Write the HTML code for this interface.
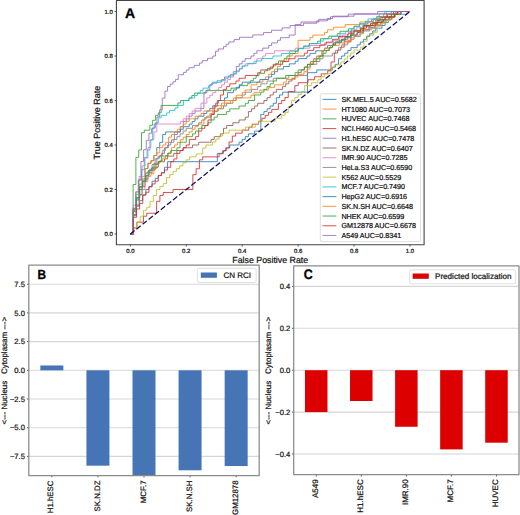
<!DOCTYPE html><html><head><meta charset="utf-8"><style>html,body{margin:0;padding:0;background:#fff;width:520px;height:515px;overflow:hidden}text{font-family:"Liberation Sans",sans-serif;text-rendering:geometricPrecision;stroke:#111;stroke-width:0.22px}text[font-weight]{stroke:#000;stroke-width:0.3px}</style></head><body><svg width="520" height="515" viewBox="0 0 520 515" style="display:block"><rect x="0" y="0" width="520" height="515" fill="#fff"/><g font-family='"Liberation Sans", sans-serif' stroke-linejoin="round"><clipPath id="ca"><rect x="116.4" y="0.5" width="307.70000000000005" height="244.2"/></clipPath><g clip-path="url(#ca)" fill="none" stroke-width="1.0" stroke-opacity="0.82" stroke-linejoin="miter"><path d="M130.30,234.00 133.41,234.00 133.41,214.53 136.52,214.53 136.52,206.19 139.62,206.19 139.62,200.62 142.73,200.62 142.73,195.06 145.84,195.06 145.84,189.50 148.95,189.50 148.95,186.72 152.05,186.72 152.05,181.16 155.16,181.16 155.16,178.38 158.27,178.38 158.27,175.59 161.38,175.59 161.38,172.81 164.49,172.81 164.49,167.25 167.59,167.25 167.59,161.69 217.32,161.69 217.32,153.34 223.53,153.34 223.53,150.56 226.64,150.56 226.64,147.78 229.75,147.78 229.75,145.00 239.07,145.00 239.07,142.22 242.18,142.22 242.18,139.44 245.29,139.44 245.29,136.66 248.40,136.66 248.40,133.88 254.61,133.88 254.61,131.09 260.83,131.09 260.83,114.41 263.93,114.41 263.93,111.62 267.04,111.62 267.04,108.84 270.15,108.84 270.15,106.06 273.26,106.06 273.26,103.28 276.37,103.28 276.37,97.72 279.47,97.72 279.47,94.94 282.58,94.94 282.58,92.16 307.44,92.16 307.44,72.69 316.77,72.69 316.77,69.91 332.31,69.91 332.31,67.12 335.41,67.12 335.41,64.34 338.52,64.34 338.52,58.78 341.63,58.78 341.63,56.00 344.74,56.00 344.74,53.22 347.84,53.22 347.84,50.44 350.95,50.44 350.95,47.66 357.17,47.66 357.17,44.88 360.28,44.88 360.28,42.09 363.38,42.09 363.38,39.31 366.49,39.31 366.49,36.53 369.60,36.53 369.60,33.75 372.71,33.75 372.71,30.97 375.81,30.97 375.81,28.19 382.03,28.19 382.03,25.41 385.14,25.41 385.14,22.62 388.25,22.62 388.25,19.84 391.35,19.84 391.35,17.06 394.46,17.06 394.46,14.28 400.68,14.28 400.68,11.50 410.00,11.50" stroke="#1f77b4"/><path d="M130.30,234.00 133.24,234.00 133.24,215.68 136.19,215.68 136.19,205.21 139.13,205.21 139.13,194.74 142.08,194.74 142.08,189.50 145.02,189.50 145.02,181.65 147.97,181.65 147.97,176.41 150.91,176.41 150.91,173.79 153.85,173.79 153.85,168.56 156.80,168.56 156.80,163.32 159.74,163.32 159.74,160.71 162.69,160.71 162.69,158.09 165.63,158.09 165.63,155.47 168.57,155.47 168.57,152.85 171.52,152.85 171.52,147.62 174.46,147.62 174.46,145.00 177.41,145.00 177.41,142.38 180.35,142.38 180.35,139.76 183.30,139.76 183.30,137.15 186.24,137.15 186.24,134.53 189.18,134.53 189.18,131.91 192.13,131.91 192.13,129.29 195.07,129.29 195.07,126.68 198.02,126.68 198.02,124.06 203.91,124.06 203.91,118.82 206.85,118.82 206.85,116.21 209.79,116.21 209.79,113.59 212.74,113.59 212.74,110.97 218.63,110.97 218.63,108.35 221.57,108.35 221.57,105.74 224.51,105.74 224.51,103.12 230.40,103.12 230.40,100.50 233.35,100.50 233.35,97.88 236.29,97.88 236.29,95.26 242.18,95.26 242.18,92.65 245.12,92.65 245.12,90.03 251.01,90.03 251.01,84.79 256.90,84.79 256.90,82.18 262.79,82.18 262.79,79.56 265.73,79.56 265.73,76.94 268.68,76.94 268.68,74.32 271.62,74.32 271.62,71.71 274.57,71.71 274.57,69.09 277.51,69.09 277.51,66.47 280.45,66.47 280.45,61.24 286.34,61.24 286.34,58.62 289.29,58.62 289.29,56.00 292.23,56.00 292.23,53.38 298.12,53.38 298.12,40.29 309.90,40.29 309.90,37.68 312.84,37.68 312.84,35.06 324.62,35.06 324.62,32.44 327.56,32.44 327.56,29.82 333.45,29.82 333.45,27.21 345.23,27.21 345.23,24.59 359.95,24.59 359.95,21.97 371.73,21.97 371.73,19.35 377.61,19.35 377.61,16.74 383.50,16.74 383.50,14.12 386.45,14.12 386.45,11.50 410.00,11.50" stroke="#ff7f0e"/><path d="M130.30,234.00 133.10,234.00 133.10,184.56 135.89,184.56 135.89,157.36 138.69,157.36 138.69,149.94 141.49,149.94 141.49,132.64 144.29,132.64 144.29,130.17 149.88,130.17 149.88,125.22 152.68,125.22 152.68,120.28 155.47,120.28 155.47,115.33 158.27,115.33 158.27,112.86 161.07,112.86 161.07,105.44 177.85,105.44 177.85,102.97 180.65,102.97 180.65,100.50 189.04,100.50 189.04,98.03 191.83,98.03 191.83,95.56 194.63,95.56 194.63,93.08 205.82,93.08 205.82,90.61 230.99,90.61 230.99,88.14 239.38,88.14 239.38,85.67 247.77,85.67 247.77,83.19 250.57,83.19 250.57,80.72 253.37,80.72 253.37,78.25 256.17,78.25 256.17,75.78 258.96,75.78 258.96,73.31 264.56,73.31 264.56,70.83 267.35,70.83 267.35,68.36 272.95,68.36 272.95,65.89 275.74,65.89 275.74,63.42 278.54,63.42 278.54,60.94 284.13,60.94 284.13,58.47 286.93,58.47 286.93,56.00 289.73,56.00 289.73,53.53 295.32,53.53 295.32,51.06 298.12,51.06 298.12,48.58 303.71,48.58 303.71,46.11 309.31,46.11 309.31,43.64 317.70,43.64 317.70,41.17 320.50,41.17 320.50,38.69 328.89,38.69 328.89,36.22 337.28,36.22 337.28,33.75 340.07,33.75 340.07,31.28 348.47,31.28 348.47,28.81 354.06,28.81 354.06,26.33 359.65,26.33 359.65,23.86 368.04,23.86 368.04,21.39 373.64,21.39 373.64,18.92 379.23,18.92 379.23,16.44 387.62,16.44 387.62,13.97 396.01,13.97 396.01,11.50 410.00,11.50" stroke="#2ca02c"/><path d="M130.30,234.00 133.59,234.00 133.59,228.07 136.88,228.07 136.88,222.13 143.46,222.13 143.46,216.20 146.75,216.20 146.75,213.23 156.62,213.23 156.62,201.37 159.92,201.37 159.92,195.43 163.21,195.43 163.21,192.47 173.08,192.47 173.08,189.50 192.82,189.50 192.82,174.67 196.11,174.67 196.11,168.73 199.40,168.73 199.40,159.83 202.69,159.83 202.69,156.87 219.15,156.87 219.15,153.90 222.44,153.90 222.44,150.93 225.73,150.93 225.73,147.97 229.02,147.97 229.02,142.03 232.31,142.03 232.31,136.10 235.60,136.10 235.60,133.13 242.18,133.13 242.18,130.17 248.76,130.17 248.76,127.20 252.05,127.20 252.05,124.23 258.63,124.23 258.63,121.27 261.92,121.27 261.92,118.30 265.21,118.30 265.21,115.33 268.50,115.33 268.50,112.37 271.80,112.37 271.80,109.40 278.38,109.40 278.38,103.47 281.67,103.47 281.67,100.50 284.96,100.50 284.96,97.53 288.25,97.53 288.25,91.60 294.83,91.60 294.83,85.67 298.12,85.67 298.12,82.70 307.99,82.70 307.99,79.73 314.57,79.73 314.57,76.77 321.15,76.77 321.15,73.80 327.74,73.80 327.74,70.83 331.03,70.83 331.03,61.93 334.32,61.93 334.32,53.03 337.61,53.03 337.61,50.07 340.90,50.07 340.90,47.10 344.19,47.10 344.19,41.17 350.77,41.17 350.77,35.23 357.35,35.23 357.35,32.27 360.64,32.27 360.64,29.30 363.93,29.30 363.93,26.33 370.51,26.33 370.51,23.37 377.09,23.37 377.09,20.40 380.38,20.40 380.38,17.43 386.97,17.43 386.97,14.47 393.55,14.47 393.55,11.50 410.00,11.50" stroke="#d62728"/><path d="M130.30,234.00 133.24,234.00 133.24,215.68 136.19,215.68 136.19,205.21 139.13,205.21 139.13,194.74 142.08,194.74 142.08,186.88 145.02,186.88 145.02,179.03 147.97,179.03 147.97,171.18 150.91,171.18 150.91,168.56 153.85,168.56 153.85,163.32 156.80,163.32 156.80,158.09 159.74,158.09 159.74,155.47 162.69,155.47 162.69,150.24 165.63,150.24 165.63,147.62 168.57,147.62 168.57,142.38 171.52,142.38 171.52,139.76 174.46,139.76 174.46,134.53 177.41,134.53 177.41,131.91 180.35,131.91 180.35,126.68 183.30,126.68 183.30,121.44 186.24,121.44 186.24,118.82 189.18,118.82 189.18,116.21 192.13,116.21 192.13,113.59 195.07,113.59 195.07,110.97 200.96,110.97 200.96,108.35 203.91,108.35 203.91,92.65 206.85,92.65 206.85,90.03 209.79,90.03 209.79,84.79 212.74,84.79 212.74,82.18 221.57,82.18 221.57,79.56 224.51,79.56 224.51,76.94 230.40,76.94 230.40,74.32 233.35,74.32 233.35,71.71 236.29,71.71 236.29,66.47 239.24,66.47 239.24,63.85 242.18,63.85 242.18,61.24 245.12,61.24 245.12,58.62 251.01,58.62 251.01,56.00 253.96,56.00 253.96,53.38 256.90,53.38 256.90,50.76 262.79,50.76 262.79,48.15 268.68,48.15 268.68,45.53 271.62,45.53 271.62,42.91 277.51,42.91 277.51,40.29 280.45,40.29 280.45,37.68 289.29,37.68 289.29,35.06 295.18,35.06 295.18,24.59 301.06,24.59 301.06,21.97 318.73,21.97 318.73,19.35 330.51,19.35 330.51,16.74 348.17,16.74 348.17,14.12 377.61,14.12 377.61,11.50 410.00,11.50" stroke="#9467bd"/><path d="M130.30,234.00 133.41,234.00 133.41,211.75 136.52,211.75 136.52,197.84 139.62,197.84 139.62,186.72 142.73,186.72 142.73,181.16 145.84,181.16 145.84,175.59 148.95,175.59 148.95,172.81 152.05,172.81 152.05,170.03 155.16,170.03 155.16,167.25 158.27,167.25 158.27,161.69 164.49,161.69 164.49,158.91 167.59,158.91 167.59,156.12 173.81,156.12 173.81,153.34 176.92,153.34 176.92,150.56 183.13,150.56 183.13,147.78 192.46,147.78 192.46,145.00 198.67,145.00 198.67,142.22 211.10,142.22 211.10,139.44 214.21,139.44 214.21,136.66 220.43,136.66 220.43,133.88 223.53,133.88 223.53,128.31 226.64,128.31 226.64,125.53 232.86,125.53 232.86,122.75 239.07,122.75 239.07,119.97 245.29,119.97 245.29,117.19 248.40,117.19 248.40,111.62 251.50,111.62 251.50,108.84 254.61,108.84 254.61,106.06 257.72,106.06 257.72,103.28 263.93,103.28 263.93,100.50 267.04,100.50 267.04,97.72 270.15,97.72 270.15,94.94 273.26,94.94 273.26,92.16 276.37,92.16 276.37,89.38 282.58,89.38 282.58,86.59 285.69,86.59 285.69,83.81 288.80,83.81 288.80,81.03 291.90,81.03 291.90,78.25 295.01,78.25 295.01,75.47 298.12,75.47 298.12,72.69 301.23,72.69 301.23,69.91 304.34,69.91 304.34,67.12 307.44,67.12 307.44,64.34 310.55,64.34 310.55,61.56 313.66,61.56 313.66,58.78 316.77,58.78 316.77,56.00 322.98,56.00 322.98,50.44 329.20,50.44 329.20,47.66 332.31,47.66 332.31,44.88 335.41,44.88 335.41,42.09 341.63,42.09 341.63,39.31 347.84,39.31 347.84,36.53 350.95,36.53 350.95,33.75 354.06,33.75 354.06,30.97 360.28,30.97 360.28,28.19 363.38,28.19 363.38,25.41 372.71,25.41 372.71,22.62 375.81,22.62 375.81,19.84 385.14,19.84 385.14,17.06 391.35,17.06 391.35,14.28 397.57,14.28 397.57,11.50 410.00,11.50" stroke="#8c564b"/><path d="M130.30,234.00 133.24,234.00 133.24,205.21 136.19,205.21 136.19,192.12 139.13,192.12 139.13,176.41 142.08,176.41 142.08,165.94 145.02,165.94 145.02,158.09 147.97,158.09 147.97,147.62 150.91,147.62 150.91,139.76 153.85,139.76 153.85,131.91 156.80,131.91 156.80,124.06 180.35,124.06 180.35,121.44 183.30,121.44 183.30,118.82 186.24,118.82 186.24,116.21 189.18,116.21 189.18,113.59 192.13,113.59 192.13,110.97 195.07,110.97 195.07,108.35 200.96,108.35 200.96,103.12 206.85,103.12 206.85,97.88 209.79,97.88 209.79,95.26 212.74,95.26 212.74,92.65 215.68,92.65 215.68,90.03 218.63,90.03 218.63,87.41 221.57,87.41 221.57,84.79 224.51,84.79 224.51,82.18 227.46,82.18 227.46,79.56 230.40,79.56 230.40,76.94 233.35,76.94 233.35,74.32 236.29,74.32 236.29,71.71 239.24,71.71 239.24,69.09 242.18,69.09 242.18,66.47 245.12,66.47 245.12,63.85 253.96,63.85 253.96,61.24 256.90,61.24 256.90,58.62 262.79,58.62 262.79,56.00 265.73,56.00 265.73,53.38 274.57,53.38 274.57,50.76 295.18,50.76 295.18,48.15 309.90,48.15 309.90,45.53 324.62,45.53 324.62,42.91 333.45,42.91 333.45,40.29 339.34,40.29 339.34,37.68 342.28,37.68 342.28,35.06 348.17,35.06 348.17,32.44 354.06,32.44 354.06,29.82 357.00,29.82 357.00,27.21 362.89,27.21 362.89,24.59 365.84,24.59 365.84,21.97 371.73,21.97 371.73,19.35 380.56,19.35 380.56,16.74 386.45,16.74 386.45,14.12 395.28,14.12 395.28,11.50 410.00,11.50" stroke="#e377c2"/><path d="M130.30,234.00 133.41,234.00 133.41,208.97 136.52,208.97 136.52,197.84 139.62,197.84 139.62,186.72 142.73,186.72 142.73,181.16 145.84,181.16 145.84,175.59 148.95,175.59 148.95,170.03 152.05,170.03 152.05,164.47 155.16,164.47 155.16,158.91 158.27,158.91 158.27,156.12 161.38,156.12 161.38,153.34 164.49,153.34 164.49,147.78 167.59,147.78 167.59,145.00 170.70,145.00 170.70,142.22 173.81,142.22 173.81,139.44 176.92,139.44 176.92,136.66 180.02,136.66 180.02,133.88 183.13,133.88 183.13,131.09 186.24,131.09 186.24,128.31 192.46,128.31 192.46,125.53 198.67,125.53 198.67,122.75 201.78,122.75 201.78,119.97 204.89,119.97 204.89,117.19 211.10,117.19 211.10,114.41 214.21,114.41 214.21,111.62 217.32,111.62 217.32,108.84 223.53,108.84 223.53,106.06 226.64,106.06 226.64,103.28 232.86,103.28 232.86,100.50 235.96,100.50 235.96,97.72 242.18,97.72 242.18,94.94 245.29,94.94 245.29,92.16 251.50,92.16 251.50,89.38 257.72,89.38 257.72,86.59 260.83,86.59 260.83,83.81 267.04,83.81 267.04,81.03 273.26,81.03 273.26,78.25 288.80,78.25 288.80,75.47 307.44,75.47 307.44,67.12 310.55,67.12 310.55,64.34 316.77,64.34 316.77,61.56 319.87,61.56 319.87,58.78 322.98,58.78 322.98,56.00 332.31,56.00 332.31,53.22 335.41,53.22 335.41,50.44 338.52,50.44 338.52,47.66 341.63,47.66 341.63,44.88 347.84,44.88 347.84,42.09 350.95,42.09 350.95,39.31 354.06,39.31 354.06,36.53 360.28,36.53 360.28,33.75 363.38,33.75 363.38,30.97 369.60,30.97 369.60,28.19 375.81,28.19 375.81,25.41 382.03,25.41 382.03,22.62 385.14,22.62 385.14,19.84 388.25,19.84 388.25,17.06 394.46,17.06 394.46,14.28 406.89,14.28 406.89,11.50 410.00,11.50" stroke="#7f7f7f"/><path d="M130.30,234.00 133.59,234.00 133.59,228.07 136.88,228.07 136.88,222.13 140.17,222.13 140.17,216.20 143.46,216.20 143.46,210.27 146.75,210.27 146.75,207.30 150.04,207.30 150.04,201.37 153.33,201.37 153.33,195.43 156.62,195.43 156.62,189.50 159.92,189.50 159.92,186.53 163.21,186.53 163.21,183.57 166.50,183.57 166.50,177.63 169.79,177.63 169.79,174.67 173.08,174.67 173.08,171.70 176.37,171.70 176.37,168.73 179.66,168.73 179.66,165.77 182.95,165.77 182.95,162.80 186.24,162.80 186.24,159.83 189.53,159.83 189.53,156.87 196.11,156.87 196.11,153.90 202.69,153.90 202.69,147.97 205.98,147.97 205.98,145.00 212.56,145.00 212.56,142.03 215.86,142.03 215.86,139.07 219.15,139.07 219.15,136.10 222.44,136.10 222.44,133.13 229.02,133.13 229.02,130.17 245.47,130.17 245.47,127.20 255.34,127.20 255.34,124.23 258.63,124.23 258.63,121.27 275.09,121.27 275.09,118.30 281.67,118.30 281.67,115.33 284.96,115.33 284.96,112.37 288.25,112.37 288.25,106.43 291.54,106.43 291.54,100.50 294.83,100.50 294.83,97.53 298.12,97.53 298.12,94.57 301.41,94.57 301.41,91.60 304.70,91.60 304.70,85.67 311.28,85.67 311.28,82.70 317.86,82.70 317.86,79.73 321.15,79.73 321.15,76.77 324.44,76.77 324.44,73.80 331.03,73.80 331.03,67.87 334.32,67.87 334.32,64.90 340.90,64.90 340.90,61.93 344.19,61.93 344.19,58.97 347.48,58.97 347.48,56.00 350.77,56.00 350.77,53.03 354.06,53.03 354.06,50.07 360.64,50.07 360.64,47.10 363.93,47.10 363.93,41.17 367.22,41.17 367.22,35.23 373.80,35.23 373.80,32.27 377.09,32.27 377.09,26.33 380.38,26.33 380.38,23.37 383.68,23.37 383.68,20.40 390.26,20.40 390.26,17.43 393.55,17.43 393.55,14.47 396.84,14.47 396.84,11.50 410.00,11.50" stroke="#bcbd22"/><path d="M130.30,234.00 133.10,234.00 133.10,211.75 135.89,211.75 135.89,194.44 138.69,194.44 138.69,179.61 141.49,179.61 141.49,169.72 144.29,169.72 144.29,157.36 147.08,157.36 147.08,149.94 149.88,149.94 149.88,140.06 152.68,140.06 152.68,127.69 155.47,127.69 155.47,122.75 158.27,122.75 158.27,117.81 161.07,117.81 161.07,115.33 166.66,115.33 166.66,112.86 169.46,112.86 169.46,110.39 175.05,110.39 175.05,107.92 177.85,107.92 177.85,105.44 183.44,105.44 183.44,100.50 189.04,100.50 189.04,98.03 194.63,98.03 194.63,95.56 197.43,95.56 197.43,93.08 200.23,93.08 200.23,90.61 203.02,90.61 203.02,88.14 208.62,88.14 208.62,85.67 211.41,85.67 211.41,83.19 217.01,83.19 217.01,80.72 225.40,80.72 225.40,78.25 228.19,78.25 228.19,75.78 233.79,75.78 233.79,73.31 236.59,73.31 236.59,70.83 239.38,70.83 239.38,68.36 242.18,68.36 242.18,65.89 247.77,65.89 247.77,63.42 256.17,63.42 256.17,60.94 261.76,60.94 261.76,58.47 272.95,58.47 272.95,56.00 281.34,56.00 281.34,53.53 289.73,53.53 289.73,51.06 298.12,51.06 298.12,48.58 303.71,48.58 303.71,46.11 309.31,46.11 309.31,43.64 320.50,43.64 320.50,41.17 323.29,41.17 323.29,38.69 331.68,38.69 331.68,36.22 340.07,36.22 340.07,33.75 345.67,33.75 345.67,31.28 351.26,31.28 351.26,28.81 354.06,28.81 354.06,26.33 359.65,26.33 359.65,23.86 365.25,23.86 365.25,21.39 368.04,21.39 368.04,18.92 376.44,18.92 376.44,16.44 379.23,16.44 379.23,13.97 384.83,13.97 384.83,11.50 410.00,11.50" stroke="#17becf"/><path d="M130.30,234.00 133.24,234.00 133.24,210.44 136.19,210.44 136.19,199.97 139.13,199.97 139.13,189.50 142.08,189.50 142.08,179.03 145.02,179.03 145.02,168.56 147.97,168.56 147.97,163.32 150.91,163.32 150.91,160.71 153.85,160.71 153.85,155.47 156.80,155.47 156.80,147.62 159.74,147.62 159.74,142.38 162.69,142.38 162.69,134.53 165.63,134.53 165.63,131.91 180.35,131.91 180.35,129.29 183.30,129.29 183.30,126.68 189.18,126.68 189.18,124.06 192.13,124.06 192.13,121.44 195.07,121.44 195.07,118.82 198.02,118.82 198.02,116.21 203.91,116.21 203.91,113.59 206.85,113.59 206.85,110.97 209.79,110.97 209.79,108.35 212.74,108.35 212.74,105.74 215.68,105.74 215.68,103.12 218.63,103.12 218.63,100.50 224.51,100.50 224.51,97.88 227.46,97.88 227.46,92.65 233.35,92.65 233.35,90.03 236.29,90.03 236.29,87.41 239.24,87.41 239.24,84.79 242.18,84.79 242.18,82.18 259.85,82.18 259.85,79.56 268.68,79.56 268.68,76.94 271.62,76.94 271.62,74.32 274.57,74.32 274.57,71.71 277.51,71.71 277.51,69.09 283.40,69.09 283.40,66.47 289.29,66.47 289.29,63.85 295.18,63.85 295.18,61.24 298.12,61.24 298.12,58.62 306.95,58.62 306.95,56.00 309.90,56.00 309.90,53.38 315.79,53.38 315.79,50.76 324.62,50.76 324.62,48.15 327.56,48.15 327.56,45.53 333.45,45.53 333.45,42.91 339.34,42.91 339.34,40.29 345.23,40.29 345.23,37.68 351.12,37.68 351.12,35.06 357.00,35.06 357.00,32.44 362.89,32.44 362.89,29.82 368.78,29.82 368.78,27.21 374.67,27.21 374.67,24.59 377.61,24.59 377.61,21.97 383.50,21.97 383.50,19.35 389.39,19.35 389.39,16.74 395.28,16.74 395.28,14.12 401.17,14.12 401.17,11.50 410.00,11.50" stroke="#1f77b4"/><path d="M130.30,234.00 133.24,234.00 133.24,210.44 136.19,210.44 136.19,197.35 139.13,197.35 139.13,184.26 142.08,184.26 142.08,176.41 145.02,176.41 145.02,168.56 147.97,168.56 147.97,163.32 150.91,163.32 150.91,160.71 153.85,160.71 153.85,155.47 156.80,155.47 156.80,152.85 159.74,152.85 159.74,147.62 162.69,147.62 162.69,145.00 165.63,145.00 165.63,142.38 168.57,142.38 168.57,137.15 171.52,137.15 171.52,134.53 174.46,134.53 174.46,131.91 177.41,131.91 177.41,129.29 180.35,129.29 180.35,126.68 183.30,126.68 183.30,124.06 186.24,124.06 186.24,121.44 189.18,121.44 189.18,118.82 195.07,118.82 195.07,116.21 200.96,116.21 200.96,113.59 203.91,113.59 203.91,110.97 212.74,110.97 212.74,108.35 215.68,108.35 215.68,105.74 221.57,105.74 221.57,103.12 224.51,103.12 224.51,100.50 236.29,100.50 236.29,97.88 251.01,97.88 251.01,95.26 253.96,95.26 253.96,92.65 259.85,92.65 259.85,90.03 268.68,90.03 268.68,87.41 274.57,87.41 274.57,84.79 283.40,84.79 283.40,82.18 286.34,82.18 286.34,79.56 295.18,79.56 295.18,76.94 298.12,76.94 298.12,74.32 304.01,74.32 304.01,71.71 306.95,71.71 306.95,69.09 309.90,69.09 309.90,63.85 312.84,63.85 312.84,61.24 315.79,61.24 315.79,58.62 318.73,58.62 318.73,56.00 321.67,56.00 321.67,50.76 324.62,50.76 324.62,48.15 330.51,48.15 330.51,45.53 339.34,45.53 339.34,42.91 348.17,42.91 348.17,40.29 351.12,40.29 351.12,37.68 354.06,37.68 354.06,35.06 359.95,35.06 359.95,32.44 362.89,32.44 362.89,29.82 371.73,29.82 371.73,27.21 374.67,27.21 374.67,24.59 380.56,24.59 380.56,21.97 386.45,21.97 386.45,19.35 392.33,19.35 392.33,16.74 395.28,16.74 395.28,14.12 398.22,14.12 398.22,11.50 410.00,11.50" stroke="#ff7f0e"/><path d="M130.30,234.00 133.41,234.00 133.41,208.97 136.52,208.97 136.52,197.84 139.62,197.84 139.62,186.72 142.73,186.72 142.73,181.16 145.84,181.16 145.84,172.81 148.95,172.81 148.95,170.03 152.05,170.03 152.05,167.25 155.16,167.25 155.16,164.47 158.27,164.47 158.27,161.69 161.38,161.69 161.38,156.12 167.59,156.12 167.59,153.34 170.70,153.34 170.70,150.56 176.92,150.56 176.92,147.78 180.02,147.78 180.02,142.22 186.24,142.22 186.24,136.66 192.46,136.66 192.46,133.88 195.56,133.88 195.56,131.09 198.67,131.09 198.67,128.31 201.78,128.31 201.78,125.53 207.99,125.53 207.99,122.75 211.10,122.75 211.10,119.97 214.21,119.97 214.21,117.19 217.32,117.19 217.32,114.41 226.64,114.41 226.64,111.62 229.75,111.62 229.75,108.84 239.07,108.84 239.07,106.06 245.29,106.06 245.29,103.28 248.40,103.28 248.40,100.50 254.61,100.50 254.61,94.94 260.83,94.94 260.83,92.16 263.93,92.16 263.93,89.38 267.04,89.38 267.04,86.59 270.15,86.59 270.15,83.81 273.26,83.81 273.26,81.03 276.37,81.03 276.37,78.25 285.69,78.25 285.69,75.47 295.01,75.47 295.01,72.69 298.12,72.69 298.12,69.91 304.34,69.91 304.34,67.12 307.44,67.12 307.44,64.34 313.66,64.34 313.66,61.56 316.77,61.56 316.77,58.78 319.87,58.78 319.87,56.00 322.98,56.00 322.98,53.22 326.09,53.22 326.09,50.44 329.20,50.44 329.20,47.66 332.31,47.66 332.31,44.88 335.41,44.88 335.41,42.09 341.63,42.09 341.63,39.31 344.74,39.31 344.74,36.53 350.95,36.53 350.95,33.75 354.06,33.75 354.06,30.97 360.28,30.97 360.28,28.19 363.38,28.19 363.38,25.41 372.71,25.41 372.71,22.62 378.92,22.62 378.92,19.84 382.03,19.84 382.03,17.06 391.35,17.06 391.35,14.28 397.57,14.28 397.57,11.50 410.00,11.50" stroke="#2ca02c"/><path d="M130.30,234.00 133.41,234.00 133.41,217.31 136.52,217.31 136.52,208.97 139.62,208.97 139.62,203.41 142.73,203.41 142.73,195.06 145.84,195.06 145.84,192.28 148.95,192.28 148.95,186.72 152.05,186.72 152.05,183.94 155.16,183.94 155.16,181.16 158.27,181.16 158.27,175.59 161.38,175.59 161.38,172.81 164.49,172.81 164.49,170.03 167.59,170.03 167.59,167.25 170.70,167.25 170.70,161.69 173.81,161.69 173.81,158.91 176.92,158.91 176.92,153.34 180.02,153.34 180.02,150.56 183.13,150.56 183.13,147.78 186.24,147.78 186.24,145.00 189.35,145.00 189.35,139.44 195.56,139.44 195.56,136.66 198.67,136.66 198.67,131.09 201.78,131.09 201.78,128.31 204.89,128.31 204.89,125.53 207.99,125.53 207.99,119.97 211.10,119.97 211.10,114.41 214.21,114.41 214.21,106.06 217.32,106.06 217.32,100.50 220.43,100.50 220.43,94.94 223.53,94.94 223.53,89.38 226.64,89.38 226.64,86.59 229.75,86.59 229.75,83.81 235.96,83.81 235.96,81.03 239.07,81.03 239.07,78.25 245.29,78.25 245.29,75.47 257.72,75.47 257.72,72.69 260.83,72.69 260.83,69.91 270.15,69.91 270.15,67.12 273.26,67.12 273.26,64.34 282.58,64.34 282.58,61.56 288.80,61.56 288.80,58.78 295.01,58.78 295.01,56.00 304.34,56.00 304.34,53.22 307.44,53.22 307.44,50.44 313.66,50.44 313.66,47.66 319.87,47.66 319.87,44.88 326.09,44.88 326.09,42.09 332.31,42.09 332.31,39.31 338.52,39.31 338.52,36.53 347.84,36.53 347.84,33.75 350.95,33.75 350.95,30.97 363.38,30.97 363.38,28.19 366.49,28.19 366.49,25.41 375.81,25.41 375.81,22.62 382.03,22.62 382.03,19.84 385.14,19.84 385.14,17.06 394.46,17.06 394.46,14.28 397.57,14.28 397.57,11.50 410.00,11.50" stroke="#d62728"/><path d="M130.30,234.00 132.96,234.00 132.96,208.24 135.63,208.24 135.63,191.84 138.29,191.84 138.29,180.13 140.96,180.13 140.96,161.39 143.62,161.39 143.62,149.68 146.28,149.68 146.28,140.32 148.95,140.32 148.95,133.29 151.61,133.29 151.61,128.61 154.27,128.61 154.27,123.92 156.94,123.92 156.94,116.89 159.60,116.89 159.60,109.87 162.27,109.87 162.27,98.16 164.93,98.16 164.93,91.13 167.59,91.13 167.59,86.45 170.26,86.45 170.26,84.11 172.92,84.11 172.92,81.76 175.58,81.76 175.58,79.42 178.25,79.42 178.25,74.74 183.58,74.74 183.58,72.39 186.24,72.39 186.24,70.05 188.90,70.05 188.90,67.71 194.23,67.71 194.23,65.37 199.56,65.37 199.56,63.03 202.22,63.03 202.22,60.68 207.55,60.68 207.55,58.34 212.88,58.34 212.88,56.00 215.54,56.00 215.54,51.32 218.21,51.32 218.21,48.97 223.53,48.97 223.53,46.63 226.20,46.63 226.20,44.29 228.86,44.29 228.86,41.95 234.19,41.95 234.19,39.61 239.52,39.61 239.52,37.26 252.84,37.26 252.84,34.92 263.49,34.92 263.49,32.58 271.48,32.58 271.48,30.24 282.14,30.24 282.14,27.89 290.13,27.89 290.13,25.55 303.45,25.55 303.45,23.21 316.77,23.21 316.77,20.87 327.42,20.87 327.42,18.53 332.75,18.53 332.75,16.18 354.06,16.18 354.06,13.84 391.35,13.84 391.35,11.50 410.00,11.50" stroke="#9467bd"/></g><line x1="130.30" y1="234.00" x2="410.00" y2="11.50" stroke="#141464" stroke-width="1.3" stroke-dasharray="5.45 2.35"/><rect x="116.4" y="0.5" width="307.70" height="244.20" fill="none" stroke="#444" stroke-width="1.1"/><line x1="114.60000000000001" y1="234.00" x2="116.4" y2="234.00" stroke="#444" stroke-width="0.9"/><line x1="130.30" y1="244.7" x2="130.30" y2="246.5" stroke="#444" stroke-width="0.9"/><text x="112.80000000000001" y="236.10" font-size="6" text-anchor="end" fill="#111">0.0</text><text x="130.30" y="253.00" font-size="6" text-anchor="middle" fill="#111">0.0</text><line x1="114.60000000000001" y1="189.50" x2="116.4" y2="189.50" stroke="#444" stroke-width="0.9"/><line x1="186.24" y1="244.7" x2="186.24" y2="246.5" stroke="#444" stroke-width="0.9"/><text x="112.80000000000001" y="191.60" font-size="6" text-anchor="end" fill="#111">0.2</text><text x="186.24" y="253.00" font-size="6" text-anchor="middle" fill="#111">0.2</text><line x1="114.60000000000001" y1="145.00" x2="116.4" y2="145.00" stroke="#444" stroke-width="0.9"/><line x1="242.18" y1="244.7" x2="242.18" y2="246.5" stroke="#444" stroke-width="0.9"/><text x="112.80000000000001" y="147.10" font-size="6" text-anchor="end" fill="#111">0.4</text><text x="242.18" y="253.00" font-size="6" text-anchor="middle" fill="#111">0.4</text><line x1="114.60000000000001" y1="100.50" x2="116.4" y2="100.50" stroke="#444" stroke-width="0.9"/><line x1="298.12" y1="244.7" x2="298.12" y2="246.5" stroke="#444" stroke-width="0.9"/><text x="112.80000000000001" y="102.60" font-size="6" text-anchor="end" fill="#111">0.6</text><text x="298.12" y="253.00" font-size="6" text-anchor="middle" fill="#111">0.6</text><line x1="114.60000000000001" y1="56.00" x2="116.4" y2="56.00" stroke="#444" stroke-width="0.9"/><line x1="354.06" y1="244.7" x2="354.06" y2="246.5" stroke="#444" stroke-width="0.9"/><text x="112.80000000000001" y="58.10" font-size="6" text-anchor="end" fill="#111">0.8</text><text x="354.06" y="253.00" font-size="6" text-anchor="middle" fill="#111">0.8</text><line x1="114.60000000000001" y1="11.50" x2="116.4" y2="11.50" stroke="#444" stroke-width="0.9"/><line x1="410.00" y1="244.7" x2="410.00" y2="246.5" stroke="#444" stroke-width="0.9"/><text x="112.80000000000001" y="13.60" font-size="6" text-anchor="end" fill="#111">1.0</text><text x="410.00" y="253.00" font-size="6" text-anchor="middle" fill="#111">1.0</text><text x="270.25" y="262.7" font-size="8.8" text-anchor="middle" fill="#111">False Positive Rate</text><text transform="translate(99.6,122.60) rotate(-90)" font-size="9" text-anchor="middle" fill="#111">True Positive Rate</text><text x="125" y="18" font-size="14" font-weight="bold" fill="#000">A</text><rect x="320.3" y="93.8" width="100.30" height="147.80" rx="1.8" fill="#fff" fill-opacity="0.8" stroke="#d4d4d4" stroke-width="0.8"/><line x1="322.6" y1="99.40" x2="336.4" y2="99.40" stroke="#1f77b4" stroke-width="1.1" stroke-opacity="0.75"/><text x="341.4" y="101.90" font-size="7.2" fill="#111">SK.MEL.5 AUC=0.5682</text><line x1="322.6" y1="109.12" x2="336.4" y2="109.12" stroke="#ff7f0e" stroke-width="1.1" stroke-opacity="0.75"/><text x="341.4" y="111.62" font-size="7.2" fill="#111">HT1080 AUC=0.7073</text><line x1="322.6" y1="118.84" x2="336.4" y2="118.84" stroke="#2ca02c" stroke-width="1.1" stroke-opacity="0.75"/><text x="341.4" y="121.34" font-size="7.2" fill="#111">HUVEC AUC=0.7468</text><line x1="322.6" y1="128.56" x2="336.4" y2="128.56" stroke="#d62728" stroke-width="1.1" stroke-opacity="0.75"/><text x="341.4" y="131.06" font-size="7.2" fill="#111">NCI.H460 AUC=0.5468</text><line x1="322.6" y1="138.28" x2="336.4" y2="138.28" stroke="#9467bd" stroke-width="1.1" stroke-opacity="0.75"/><text x="341.4" y="140.78" font-size="7.2" fill="#111">H1.hESC AUC=0.7478</text><line x1="322.6" y1="148.00" x2="336.4" y2="148.00" stroke="#8c564b" stroke-width="1.1" stroke-opacity="0.75"/><text x="341.4" y="150.50" font-size="7.2" fill="#111">SK.N.DZ AUC=0.6407</text><line x1="322.6" y1="157.72" x2="336.4" y2="157.72" stroke="#e377c2" stroke-width="1.1" stroke-opacity="0.75"/><text x="341.4" y="160.22" font-size="7.2" fill="#111">IMR.90 AUC=0.7285</text><line x1="322.6" y1="167.44" x2="336.4" y2="167.44" stroke="#7f7f7f" stroke-width="1.1" stroke-opacity="0.75"/><text x="341.4" y="169.94" font-size="7.2" fill="#111">HeLa.S3 AUC=0.6590</text><line x1="322.6" y1="177.16" x2="336.4" y2="177.16" stroke="#bcbd22" stroke-width="1.1" stroke-opacity="0.75"/><text x="341.4" y="179.66" font-size="7.2" fill="#111">K562 AUC=0.5529</text><line x1="322.6" y1="186.88" x2="336.4" y2="186.88" stroke="#17becf" stroke-width="1.1" stroke-opacity="0.75"/><text x="341.4" y="189.38" font-size="7.2" fill="#111">MCF.7 AUC=0.7490</text><line x1="322.6" y1="196.60" x2="336.4" y2="196.60" stroke="#1f77b4" stroke-width="1.1" stroke-opacity="0.75"/><text x="341.4" y="199.10" font-size="7.2" fill="#111">HepG2 AUC=0.6916</text><line x1="322.6" y1="206.32" x2="336.4" y2="206.32" stroke="#ff7f0e" stroke-width="1.1" stroke-opacity="0.75"/><text x="341.4" y="208.82" font-size="7.2" fill="#111">SK.N.SH AUC=0.6648</text><line x1="322.6" y1="216.04" x2="336.4" y2="216.04" stroke="#2ca02c" stroke-width="1.1" stroke-opacity="0.75"/><text x="341.4" y="218.54" font-size="7.2" fill="#111">NHEK AUC=0.6599</text><line x1="322.6" y1="225.76" x2="336.4" y2="225.76" stroke="#d62728" stroke-width="1.1" stroke-opacity="0.75"/><text x="341.4" y="228.26" font-size="7.2" fill="#111">GM12878 AUC=0.6678</text><line x1="322.6" y1="235.48" x2="336.4" y2="235.48" stroke="#9467bd" stroke-width="1.1" stroke-opacity="0.75"/><text x="341.4" y="237.98" font-size="7.2" fill="#111">A549 AUC=0.8341</text><clipPath id="cb"><rect x="28.8" y="265.1" width="230.40" height="210.40"/></clipPath><line x1="28.8" y1="284.20" x2="259.2" y2="284.20" stroke="#d6d6d6" stroke-width="1.1"/><line x1="27.0" y1="284.20" x2="28.8" y2="284.20" stroke="#444" stroke-width="0.9"/><text x="24.900000000000002" y="286.95" font-size="7.6" text-anchor="end" fill="#111">7.5</text><line x1="28.8" y1="312.90" x2="259.2" y2="312.90" stroke="#d6d6d6" stroke-width="1.1"/><line x1="27.0" y1="312.90" x2="28.8" y2="312.90" stroke="#444" stroke-width="0.9"/><text x="24.900000000000002" y="315.65" font-size="7.6" text-anchor="end" fill="#111">5.0</text><line x1="28.8" y1="341.60" x2="259.2" y2="341.60" stroke="#d6d6d6" stroke-width="1.1"/><line x1="27.0" y1="341.60" x2="28.8" y2="341.60" stroke="#444" stroke-width="0.9"/><text x="24.900000000000002" y="344.35" font-size="7.6" text-anchor="end" fill="#111">2.5</text><line x1="28.8" y1="370.30" x2="259.2" y2="370.30" stroke="#d6d6d6" stroke-width="1.1"/><line x1="27.0" y1="370.30" x2="28.8" y2="370.30" stroke="#444" stroke-width="0.9"/><text x="24.900000000000002" y="373.05" font-size="7.6" text-anchor="end" fill="#111">0.0</text><line x1="28.8" y1="399.00" x2="259.2" y2="399.00" stroke="#d6d6d6" stroke-width="1.1"/><line x1="27.0" y1="399.00" x2="28.8" y2="399.00" stroke="#444" stroke-width="0.9"/><text x="24.900000000000002" y="401.75" font-size="7.6" text-anchor="end" fill="#111">−2.5</text><line x1="28.8" y1="427.70" x2="259.2" y2="427.70" stroke="#d6d6d6" stroke-width="1.1"/><line x1="27.0" y1="427.70" x2="28.8" y2="427.70" stroke="#444" stroke-width="0.9"/><text x="24.900000000000002" y="430.45" font-size="7.6" text-anchor="end" fill="#111">−5.0</text><line x1="28.8" y1="456.40" x2="259.2" y2="456.40" stroke="#d6d6d6" stroke-width="1.1"/><line x1="27.0" y1="456.40" x2="28.8" y2="456.40" stroke="#444" stroke-width="0.9"/><text x="24.900000000000002" y="459.15" font-size="7.6" text-anchor="end" fill="#111">−7.5</text><g clip-path="url(#cb)"><rect x="40.34" y="365.48" width="23" height="4.82" fill="#4675b6"/><rect x="86.42" y="370.30" width="23" height="95.40" fill="#4675b6"/><rect x="132.50" y="370.30" width="23" height="110.21" fill="#4675b6"/><rect x="178.58" y="370.30" width="23" height="99.99" fill="#4675b6"/><rect x="224.66" y="370.30" width="23" height="95.74" fill="#4675b6"/></g><line x1="51.84" y1="475.5" x2="51.84" y2="477.3" stroke="#444" stroke-width="0.9"/><text transform="translate(53.44,480.50) rotate(-90)" font-size="7.85" text-anchor="end" fill="#111">H1.hESC</text><line x1="97.92" y1="475.5" x2="97.92" y2="477.3" stroke="#444" stroke-width="0.9"/><text transform="translate(99.52,480.50) rotate(-90)" font-size="7.85" text-anchor="end" fill="#111">SK.N.DZ</text><line x1="144.00" y1="475.5" x2="144.00" y2="477.3" stroke="#444" stroke-width="0.9"/><text transform="translate(145.60,480.50) rotate(-90)" font-size="7.85" text-anchor="end" fill="#111">MCF.7</text><line x1="190.08" y1="475.5" x2="190.08" y2="477.3" stroke="#444" stroke-width="0.9"/><text transform="translate(191.68,480.50) rotate(-90)" font-size="7.85" text-anchor="end" fill="#111">SK.N.SH</text><line x1="236.16" y1="475.5" x2="236.16" y2="477.3" stroke="#444" stroke-width="0.9"/><text transform="translate(237.76,480.50) rotate(-90)" font-size="7.85" text-anchor="end" fill="#111">GM12878</text><rect x="28.8" y="265.1" width="230.40" height="210.40" fill="none" stroke="#8a8a8a" stroke-width="1.25"/><text transform="translate(37.6,279.1) scale(0.9,1)" font-size="13.2" font-weight="bold" fill="#000">B</text><text transform="translate(6.6,370.7) rotate(-90)" font-size="8" text-anchor="middle" fill="#111">&lt;--- Nucleus&#160;&#160;&#160;Cytoplasam ---&gt;</text><rect x="197.3" y="268.3" width="58.9" height="14.2" rx="1.8" fill="#fff" stroke="#d8d8d8" stroke-width="0.8"/><rect x="200.8" y="272.5" width="16.1" height="5.3" fill="#4675b6"/><text x="223.4" y="278.3" font-size="8" fill="#111">CN RCI</text><line x1="293.7" y1="286.40" x2="519.0" y2="286.40" stroke="#d6d6d6" stroke-width="1.1"/><line x1="291.9" y1="286.40" x2="293.7" y2="286.40" stroke="#444" stroke-width="0.9"/><text x="290.3" y="289.15" font-size="7.6" text-anchor="end" fill="#111">0.4</text><line x1="293.7" y1="328.30" x2="519.0" y2="328.30" stroke="#d6d6d6" stroke-width="1.1"/><line x1="291.9" y1="328.30" x2="293.7" y2="328.30" stroke="#444" stroke-width="0.9"/><text x="290.3" y="331.05" font-size="7.6" text-anchor="end" fill="#111">0.2</text><line x1="293.7" y1="370.20" x2="519.0" y2="370.20" stroke="#d6d6d6" stroke-width="1.1"/><line x1="291.9" y1="370.20" x2="293.7" y2="370.20" stroke="#444" stroke-width="0.9"/><text x="290.3" y="372.95" font-size="7.6" text-anchor="end" fill="#111">0.0</text><line x1="293.7" y1="412.10" x2="519.0" y2="412.10" stroke="#d6d6d6" stroke-width="1.1"/><line x1="291.9" y1="412.10" x2="293.7" y2="412.10" stroke="#444" stroke-width="0.9"/><text x="290.3" y="414.85" font-size="7.6" text-anchor="end" fill="#111">−0.2</text><line x1="293.7" y1="454.00" x2="519.0" y2="454.00" stroke="#d6d6d6" stroke-width="1.1"/><line x1="291.9" y1="454.00" x2="293.7" y2="454.00" stroke="#444" stroke-width="0.9"/><text x="290.3" y="456.75" font-size="7.6" text-anchor="end" fill="#111">−0.4</text><rect x="304.98" y="370.20" width="22.5" height="41.90" fill="#dc0000"/><rect x="350.04" y="370.20" width="22.5" height="30.80" fill="#dc0000"/><rect x="395.10" y="370.20" width="22.5" height="56.56" fill="#dc0000"/><rect x="440.16" y="370.20" width="22.5" height="79.19" fill="#dc0000"/><rect x="485.22" y="370.20" width="22.5" height="72.49" fill="#dc0000"/><line x1="316.23" y1="474.7" x2="316.23" y2="476.5" stroke="#444" stroke-width="0.9"/><text transform="translate(318.13,479.30) rotate(-90)" font-size="8" text-anchor="end" fill="#111">A549</text><line x1="361.29" y1="474.7" x2="361.29" y2="476.5" stroke="#444" stroke-width="0.9"/><text transform="translate(363.19,479.30) rotate(-90)" font-size="8" text-anchor="end" fill="#111">H1.hESC</text><line x1="406.35" y1="474.7" x2="406.35" y2="476.5" stroke="#444" stroke-width="0.9"/><text transform="translate(408.25,479.30) rotate(-90)" font-size="8" text-anchor="end" fill="#111">IMR.90</text><line x1="451.41" y1="474.7" x2="451.41" y2="476.5" stroke="#444" stroke-width="0.9"/><text transform="translate(453.31,479.30) rotate(-90)" font-size="8" text-anchor="end" fill="#111">MCF.7</text><line x1="496.47" y1="474.7" x2="496.47" y2="476.5" stroke="#444" stroke-width="0.9"/><text transform="translate(498.37,479.30) rotate(-90)" font-size="8" text-anchor="end" fill="#111">HUVEC</text><rect x="293.7" y="265.9" width="225.30" height="208.80" fill="none" stroke="#8a8a8a" stroke-width="1.25"/><text transform="translate(303.7,279.4) scale(0.9,1)" font-size="13.8" font-weight="bold" fill="#000">C</text><text transform="translate(271.4,370.7) rotate(-90)" font-size="8" text-anchor="middle" fill="#111">&lt;--- Nucleus&#160;&#160;&#160;Cytoplasam ---&gt;</text><rect x="409.7" y="269.8" width="106" height="14" rx="1.8" fill="#fff" stroke="#d8d8d8" stroke-width="0.8"/><rect x="412.7" y="273.5" width="16.1" height="5.3" fill="#dc0000"/><text x="435" y="278.6" font-size="8.1" fill="#111">Predicted localization</text></g></svg></body></html>
